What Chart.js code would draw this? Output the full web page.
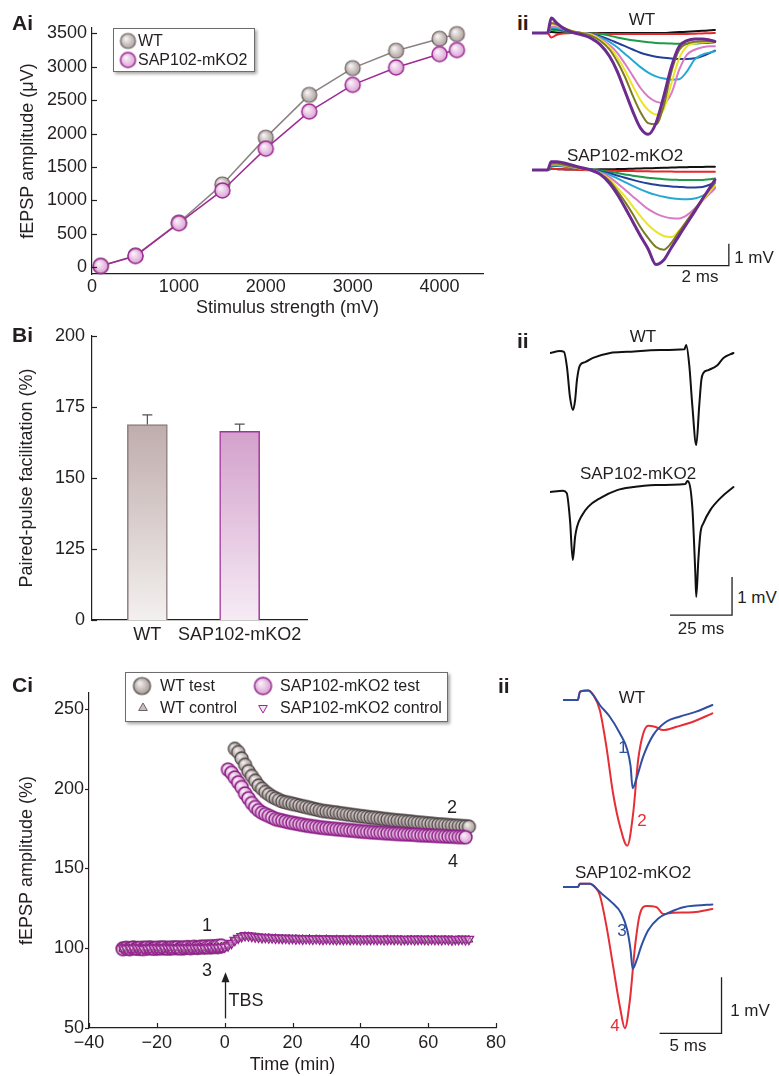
<!DOCTYPE html>
<html>
<head>
<meta charset="utf-8">
<title>SAP102-mKO2 synaptic physiology</title>
<script src="https://cdn.jsdelivr.net/npm/chart.js"></script>
<style>
  html, body { margin: 0; padding: 0; background: #fff; }
  body { width: 779px; height: 1076px; position: relative; overflow: hidden;
         font-family: 'Liberation Sans', Arial, Helvetica, sans-serif; color: #231f20; }
  canvas { position: absolute; }
  .t { position: absolute; line-height: 1; white-space: nowrap; font-size: 17px; transform: translate(-50%, -50%); }
  .panel { position: absolute; line-height: 1; font-size: 21px; font-weight: bold; }
  .legend { position: absolute; border: 1px solid #6d6d6d; background: #fff; box-shadow: 2px 2px 3px rgba(0,0,0,0.35); }
  .legend .item { position: absolute; font-size: 16px; line-height: 1; white-space: nowrap; transform: translateY(-50%); }
  .legend canvas { transform: translate(-50%, -50%); }
</style>
</head>
<body>

<canvas id="chartAi" width="500" height="320" style="left:0;top:0"></canvas>
<canvas id="chartAiiWT" width="217" height="132" style="left:532px;top:11px"></canvas>
<canvas id="chartAiiSAP" width="217" height="154" style="left:532px;top:148px"></canvas>
<canvas id="chartBi" width="500" height="328" style="left:0;top:312px"></canvas>
<canvas id="chartBiiWT" width="186" height="133" style="left:550px;top:334px"></canvas>
<canvas id="chartBiiSAP" width="186" height="152" style="left:550px;top:473px"></canvas>
<canvas id="chartCi" width="540" height="416" style="left:0;top:660px"></canvas>
<canvas id="chartCiiWT" width="161" height="190" style="left:563px;top:672px"></canvas>
<canvas id="chartCiiSAP" width="161" height="185" style="left:563px;top:859px"></canvas>

<div class="legend" id="legendAi" style="left:113px;top:28px;width:140px;height:42px"></div>
<div class="legend" id="legendCi" style="left:125px;top:672px;width:321px;height:48px"></div>

<div class="panel" style="left:12px;top:12px">Ai</div>
<div class="panel" style="left:517px;top:12px">ii</div>
<div class="panel" style="left:12px;top:324px">Bi</div>
<div class="panel" style="left:517px;top:330px">ii</div>
<div class="panel" style="left:12px;top:674px">Ci</div>
<div class="panel" style="left:498px;top:675px">ii</div>

<div class="t" style="left:642px;top:19px">WT</div>
<div class="t" style="left:625px;top:155px">SAP102-mKO2</div>
<div class="t" style="left:754px;top:257px">1 mV</div>
<div class="t" style="left:700px;top:276px">2 ms</div>

<div class="t" style="left:643px;top:336px">WT</div>
<div class="t" style="left:638px;top:473px">SAP102-mKO2</div>
<div class="t" style="left:757px;top:597px">1 mV</div>
<div class="t" style="left:701px;top:628px">25 ms</div>

<div class="t" style="left:632px;top:697px">WT</div>
<div class="t" style="left:633px;top:872px">SAP102-mKO2</div>
<div class="t" style="left:750px;top:1010px">1 mV</div>
<div class="t" style="left:688px;top:1045px">5 ms</div>
<div class="t" style="left:623px;top:747px;color:#2f4fa2">1</div>
<div class="t" style="left:642px;top:820px;color:#e62e36">2</div>
<div class="t" style="left:622px;top:930px;color:#2f4fa2">3</div>
<div class="t" style="left:615px;top:1025px;color:#e62e36">4</div>

<div class="t" style="left:207px;top:925px;font-size:18px">1</div>
<div class="t" style="left:207px;top:970px;font-size:18px">3</div>
<div class="t" style="left:452px;top:807px;font-size:18px">2</div>
<div class="t" style="left:453px;top:861px;font-size:18px">4</div>
<div class="t" style="left:246px;top:1000px;font-size:18px">TBS</div>

<script>
// --- Ai: input-output curve ---
const aStimulus = [100, 500, 1000, 1500, 2000, 2500, 3000, 3500, 4000, 4200];
const aWT = [20, 175, 670, 1240, 1940, 2580, 2980, 3240, 3420, 3490];
const aSAP = [20, 170, 660, 1150, 1775, 2330, 2730, 2990, 3190, 3250];
const aXTicks = [0, 1000, 2000, 3000, 4000];
const aYTicks = [0, 500, 1000, 1500, 2000, 2500, 3000, 3500];

// --- Aii: example fEPSPs at increasing stimulus (ms, mV) ---
const aiiTime = [0, 0.5, 0.62, 0.8, 1.0, 1.3, 1.6, 1.9, 2.2, 2.5, 2.75, 3.0, 3.25, 3.5, 3.75, 4.0, 4.25, 4.5, 4.75, 5.0, 5.25, 5.5, 5.75, 5.9];
const aiiWtTraces = [
  [0, 0, 0.05, 0.02, 0, 0, 0, 0, 0, 0, 0, 0, 0, 0, 0, 0, 0, 0.02, 0.04, 0.06, 0.08, 0.1, 0.12, 0.14],
  [0, 0, -0.2, -0.08, -0.02, 0, 0, -0.02, -0.03, -0.04, -0.05, -0.05, -0.05, -0.05, -0.05, -0.05, -0.05, -0.05, -0.04, -0.04, -0.03, -0.02, -0.01, 0],
  [0, 0, 0.15, 0.12, 0.08, 0.03, 0, -0.02, -0.05, -0.12, -0.2, -0.27, -0.33, -0.38, -0.42, -0.45, -0.47, -0.48, -0.49, -0.49, -0.48, -0.46, -0.44, -0.42],
  [0, 0, 0.2, 0.18, 0.12, 0.04, 0, -0.04, -0.15, -0.3, -0.45, -0.6, -0.75, -0.9, -1.0, -1.08, -1.13, -1.16, -1.18, -1.18, -1.15, -1.05, -0.9, -0.8],
  [0, 0, 0.25, 0.22, 0.15, 0.05, 0, -0.05, -0.2, -0.4, -0.65, -0.95, -1.25, -1.55, -1.8, -1.97, -2.07, -2.12, -2.1, -1.74, -1.2, -0.98, -0.88, -0.83],
  [0, 0, 0.3, 0.28, 0.2, 0.07, 0, -0.06, -0.25, -0.55, -0.9, -1.4, -1.95, -2.5, -2.9, -3.12, -3.18, -2.73, -1.67, -0.98, -0.76, -0.65, -0.6, -0.6],
  [0, 0, 0.4, 0.35, 0.25, 0.08, 0, -0.08, -0.3, -0.65, -1.1, -1.7, -2.4, -3.05, -3.5, -3.7, -3.48, -2.27, -1.14, -0.6, -0.47, -0.42, -0.4, -0.42],
  [0, 0, 0.45, 0.38, 0.25, 0.08, 0, -0.12, -0.35, -0.75, -1.3, -2.0, -2.85, -3.6, -4.1, -4.15, -3.3, -1.75, -0.76, -0.48, -0.4, -0.37, -0.38, -0.4],
  [0, 0, 0.68, 0.45, 0.23, 0.03, -0.08, -0.23, -0.53, -1.06, -1.74, -2.65, -3.56, -4.32, -4.6, -4.09, -2.88, -1.52, -0.6, -0.35, -0.27, -0.27, -0.33, -0.38]
];
const aiiSapTraces = [
  [0, 0, 0.05, 0.04, 0.03, 0.02, 0.02, 0.02, 0.03, 0.03, 0.04, 0.05, 0.06, 0.07, 0.08, 0.09, 0.1, 0.11, 0.12, 0.13, 0.14, 0.14, 0.15, 0.15],
  [0, 0, 0.05, 0.04, 0.03, 0.02, 0, -0.01, -0.02, -0.03, -0.04, -0.05, -0.05, -0.06, -0.06, -0.07, -0.07, -0.07, -0.08, -0.08, -0.08, -0.08, -0.08, -0.08],
  [0, 0, 0.15, 0.18, 0.16, 0.12, 0.06, 0.02, -0.03, -0.08, -0.14, -0.2, -0.26, -0.31, -0.35, -0.39, -0.42, -0.44, -0.45, -0.46, -0.46, -0.45, -0.42, -0.38],
  [0, 0, 0.2, 0.2, 0.18, 0.12, 0.06, 0.02, -0.06, -0.15, -0.25, -0.35, -0.45, -0.54, -0.61, -0.67, -0.72, -0.75, -0.77, -0.79, -0.79, -0.77, -0.66, -0.55],
  [0, 0, 0.22, 0.22, 0.18, 0.12, 0.06, 0.01, -0.1, -0.22, -0.38, -0.55, -0.72, -0.88, -1.02, -1.13, -1.22, -1.28, -1.32, -1.33, -1.3, -1.18, -0.95, -0.78],
  [0, 0, 0.25, 0.24, 0.2, 0.13, 0.06, 0, -0.12, -0.32, -0.6, -0.9, -1.2, -1.5, -1.78, -1.98, -2.12, -2.19, -2.2, -2.05, -1.75, -1.4, -1.05, -0.85],
  [0, 0, 0.3, 0.28, 0.22, 0.14, 0.06, 0, -0.15, -0.42, -0.8, -1.2, -1.65, -2.1, -2.5, -2.8, -3.0, -3.05, -2.75, -2.3, -1.85, -1.4, -0.95, -0.7],
  [0, 0, 0.3, 0.3, 0.24, 0.15, 0.06, 0, -0.18, -0.5, -0.95, -1.45, -2.0, -2.6, -3.1, -3.5, -3.62, -3.3, -2.8, -2.3, -1.8, -1.3, -0.85, -0.6],
  [0, 0, 0.38, 0.38, 0.33, 0.22, 0.1, 0, -0.2, -0.6, -1.1, -1.7, -2.35, -3.0, -3.6, -4.3, -4.09, -3.52, -2.97, -2.42, -1.88, -1.32, -0.77, -0.45]
];
const aiiBarT = [4.35, 6.35, 6.35];
const aiiBarV = [-4.35, -4.35, -3.35];

// --- Bi: paired-pulse facilitation ---
const bCategories = ['WT', 'SAP102-mKO2'];
const bMeans = [168.8, 166.4];
const bSem = [3.4, 2.6];
const bTickValues = [100, 125, 150, 175, 200];
const bTickLabels = ['0', '125', '150', '175', '200'];

// --- Bii: paired-pulse traces (ms, mV) ---
const biiWtT = [0, 4.3, 6.0, 7.3, 8.6, 9.9, 10.8, 11.6, 12.9, 15.1, 18.5, 25.9, 33.2, 47.4, 57.8, 58.6, 59.9, 61.2, 62.9, 64.2, 65.1, 65.9, 68.1, 72.0, 74.6, 78.9];
const biiWtV = [0, 0.05, 0.03, -0.37, -1.16, -1.5, -1.24, -0.71, -0.32, -0.24, -0.13, 0, 0.03, 0.08, 0.1, 0.21, -0.32, -1.37, -2.42, -1.37, -0.71, -0.53, -0.45, -0.32, -0.13, 0];
const biiSapT = [0, 5.6, 7.2, 8.6, 9.8, 10.8, 11.6, 13.8, 16.4, 21.6, 28.9, 35.8, 43.1, 58.2, 59.1, 61.2, 62.5, 62.9, 63.8, 64.7, 66.0, 69.0, 73.3, 78.9];
const biiSapV = [0, 0.03, -0.03, -0.74, -1.79, -1.18, -0.92, -0.61, -0.39, -0.16, 0.05, 0.13, 0.18, 0.21, 0.29, -0.39, -2.13, -2.76, -1.79, -1.08, -0.82, -0.47, -0.16, 0.13];
const biiBarT = [51.6, 78.3, 78.3];
const biiBarV = [-3.24, -3.24, -2.24];

// --- Ci: LTP time course ---
const ciXTicks = [-40, -20, 0, 20, 40, 60, 80];
const ciYTicks = [50, 100, 150, 200, 250];
const ciPreTime = [-30, -29, -28, -27, -26, -25, -24, -23, -22, -21, -20, -19, -18, -17, -16, -15, -14, -13, -12, -11, -10, -9, -8, -7, -6, -5, -4, -3, -2, -1];
const ciPostTime = [1, 2, 3, 4, 5, 6, 7, 8, 9, 10, 11, 12, 13, 14, 15, 16, 17, 18, 19, 20, 21, 22, 23, 24,
  25, 26, 27, 28, 29, 30, 31, 32, 33, 34, 35, 36, 37, 38, 39, 40, 41, 42, 43, 44, 45, 46, 47, 48,
  49, 50, 51, 52, 53, 54, 55, 56, 57, 58, 59, 60, 61, 62, 63, 64, 65, 66, 67, 68, 69, 70, 71, 72];
const ciWtTestPre = [99.8, 100.1, 99.6, 100.3, 100.0, 99.7, 100.2, 99.9, 100.4, 100.1, 99.8, 100.3, 100.0, 100.2, 99.9,
  100.4, 100.1, 100.3, 100.0, 100.5, 100.2, 100.6, 100.3, 100.7, 100.5, 100.9, 100.6, 101.0, 100.8, 101.2];
const ciWtTestPost = [null, null, 225, 223, 219, 215, 211, 208, 205, 202, 200, 198,
  196.5, 195, 194, 193, 192, 191.5, 191, 190.5, 190, 189.5, 189, 188.5,
  188, 187.5, 187, 186.5, 186, 185.8, 185.5, 185.2, 185, 184.6, 184.3, 184,
  183.7, 183.4, 183.1, 182.8, 182.6, 182.3, 182, 181.8, 181.6, 181.3, 181, 180.8,
  180.5, 180.3, 180.1, 179.9, 179.7, 179.5, 179.3, 179, 178.8, 178.6, 178.4, 178.2,
  178, 177.8, 177.6, 177.5, 177.3, 177.1, 177, 176.8, 176.7, 176.5, 176.4, 176.2];
const ciSapTestPre = [99.5, 100.0, 99.7, 100.2, 99.8, 100.1, 99.6, 100.3, 100.0, 99.8, 100.2, 100.1, 100.4, 99.9, 100.3,
  100.2, 100.5, 100.0, 100.4, 100.6, 100.3, 100.7, 100.5, 100.8, 101.0, 100.7, 101.2, 101.0, 101.4, 101.6];
const ciSapTestPost = [212, 210, 207, 204, 201, 197, 194, 191, 188.5, 186.5, 185, 184,
  183, 182, 181, 180.5, 180, 179.5, 179, 178.6, 178.2, 177.8, 177.4, 177,
  176.7, 176.4, 176.1, 175.8, 175.5, 175.3, 175.1, 174.9, 174.7, 174.5, 174.3, 174.1,
  173.9, 173.7, 173.5, 173.3, 173.1, 173, 172.8, 172.7, 172.5, 172.4, 172.2, 172.1,
  172, 171.8, 171.7, 171.6, 171.5, 171.4, 171.3, 171.2, 171, 170.9, 170.8, 170.7,
  170.6, 170.5, 170.4, 170.3, 170.2, 170.1, 170, 169.9, 169.8, 169.7, 169.6, null];
const ciWtCtrl = [99.6, 100.2, 99.8, 100.4, 99.9, 100.3, 99.7, 100.1, 100.4, 99.8,
  100.2, 100.0, 99.7, 100.3, 100.1, 99.9, 100.4, 100.0, 99.8, 100.2,
  100.3, 99.9, 100.1, 100.5, 100.0, 100.3, 100.6, 100.2, 100.8, 101.0,
  101.2,
  102.0, 103.8, 105.4, 106.5, 107.2, 107.6, 107.5, 107.3, 107.0, 106.8, 106.6, 106.4,
  106.5, 106.2, 106.3, 106.0, 106.1, 105.9, 106.0, 105.8, 105.9, 105.7, 105.8, 105.6,
  105.9, 105.5, 105.7, 105.6, 105.4, 105.7, 105.5, 105.3, 105.6, 105.4, 105.5, 105.2,
  105.6, 105.3, 105.4, 105.5, 105.2, 105.4, 105.6, 105.3, 105.5, 105.2, 105.4, 105.6,
  105.3, 105.2, 105.5, 105.4, 105.1, 105.3, 105.5, 105.2, 105.4, 105.3, 105.1, 105.4,
  105.2, 105.5, 105.3, 105.1, 105.4, 105.2, 105.3, 105.0, 105.4, 105.2, 105.1, 105.3];
const ciSapCtrl = [100.3, 99.7, 100.1, 99.9, 100.4, 100.0, 99.6, 100.2, 99.9, 100.3,
  100.1, 99.8, 100.2, 100.4, 99.9, 100.1, 99.7, 100.3, 100.0, 100.2,
  99.9, 100.4, 100.1, 100.3, 100.0, 100.5, 100.2, 100.6, 100.4, 100.7,
  100.9,
  101.6, 103.2, 105.0, 106.4, 107.4, 108.0, 107.8, 107.6, 107.3, 107.0, 106.8, 106.9,
  106.6, 106.7, 106.4, 106.5, 106.3, 106.4, 106.1, 106.3, 106.0, 106.2, 105.9, 106.1,
  106.0, 105.8, 106.1, 105.9, 105.7, 106.0, 105.8, 105.9, 105.6, 105.9, 105.7, 105.8,
  105.6, 105.9, 105.7, 105.5, 105.8, 105.6, 105.7, 105.9, 105.6, 105.8, 105.5, 105.7,
  105.9, 105.6, 105.8, 105.5, 105.7, 105.6, 105.8, 105.5, 105.7, 105.9, 105.6, 105.5,
  105.8, 105.6, 105.7, 105.5, 105.8, 105.6, 105.4, 105.7, 105.6, 105.8, 105.5, 105.7];
const tbsTime = 0;
const tbsArrowFrom = 56;
const tbsArrowTo = 85;

// --- Cii: traces before (1, 3) and after (2, 4) TBS (ms, mV) ---
const ciiWtT1 = [0, 1.2, 1.37, 2.03, 2.44, 2.97, 3.78, 4.6, 5.19, 5.46, 5.62, 5.94, 6.48, 7.28, 8.33, 9.4, 10.75, 12.06];
const ciiWtV1 = [0, 0, 0.15, 0.17, 0.09, -0.09, -0.3, -0.6, -0.89, -1.19, -1.58, -1.4, -1.01, -0.63, -0.39, -0.3, -0.21, -0.09];
const ciiWtT2 = [0, 1.2, 1.37, 2.03, 2.44, 2.97, 3.5, 4.04, 4.6, 5.19, 5.67, 6.07, 6.48, 6.88, 7.42, 8.09, 9.17, 10.5, 12.06];
const ciiWtV2 = [0, 0, 0.15, 0.17, 0.09, -0.18, -0.83, -1.67, -2.26, -2.61, -2.02, -1.07, -0.6, -0.46, -0.48, -0.54, -0.48, -0.39, -0.24];
const ciiSapT3 = [0, 1.2, 1.37, 2.18, 2.58, 2.98, 3.92, 4.73, 5.19, 5.46, 5.62, 5.94, 6.34, 6.88, 7.69, 8.63, 9.71, 10.78, 12.06];
const ciiSapV3 = [0, 0, 0.06, 0.06, 0, -0.09, -0.27, -0.48, -0.77, -1.13, -1.46, -1.31, -1.04, -0.77, -0.56, -0.45, -0.36, -0.33, -0.31];
const ciiSapT4 = [0, 1.2, 1.37, 2.18, 2.58, 2.98, 3.52, 4.06, 4.6, 5.0, 5.4, 5.81, 6.21, 6.75, 7.56, 8.09, 8.9, 10.5, 12.06];
const ciiSapV4 = [0, 0, 0.06, 0.06, 0, -0.15, -0.71, -1.43, -2.14, -2.52, -2.02, -1.07, -0.48, -0.34, -0.36, -0.48, -0.46, -0.45, -0.39];
const ciiBarT = [7.8, 12.8, 12.8];
const ciiBarV = [-2.61, -2.61, -1.61];

// warna
const INK = '#231f20';
const FONT = "'Liberation Sans', Arial, Helvetica, sans-serif";
const aiiColors = ['#111111', '#e5282e', '#1f9a48', '#22409a', '#25a9d3', '#d87bc7', '#ece42a', '#7d7a24', '#6c2b8e'];
const bFillTop = ['#bfadac', '#d3a1cc'];
const bFillBottom = ['#f3f0ef', '#f6ebf5'];
const bBorder = ['#8c7c7e', '#a3359a'];
const BLUE = '#2f4fa2';
const RED = '#e62e36';

function pts(t, v) {
    return t.map(function(x, i) { return { x: x, y: v[i] }; });
}

function ball(r, light, dark, edge, lw) {
    const size = Math.ceil(2 * r + lw + 2);
    const c = document.createElement('canvas');
    c.width = size;
    c.height = size;
    const g = c.getContext('2d');
    const m = size / 2;
    const grad = g.createRadialGradient(m - r * 0.3, m - r * 0.35, r * 0.1, m, m, r);
    grad.addColorStop(0, light);
    grad.addColorStop(1, dark);
    g.beginPath();
    g.arc(m, m, r, 0, Math.PI * 2);
    g.fillStyle = grad;
    g.fill();
    g.lineWidth = lw;
    g.strokeStyle = edge;
    g.stroke();
    return c;
}

function triangleIcon(r, down, fill, edge) {
    const size = Math.ceil(2 * r + 4);
    const c = document.createElement('canvas');
    c.width = size;
    c.height = size;
    const g = c.getContext('2d');
    const m = size / 2;
    let a = down ? Math.PI : 0;
    g.beginPath();
    for (let k = 0; k < 3; k++) {
        const px = m + Math.sin(a) * r, py = m - Math.cos(a) * r;
        if (k === 0) g.moveTo(px, py); else g.lineTo(px, py);
        a += Math.PI * 2 / 3;
    }
    g.closePath();
    g.fillStyle = fill;
    g.fill();
    g.lineWidth = 1;
    g.strokeStyle = edge;
    g.stroke();
    return c;
}

// tick kecil pada sumbu (ke dalam / ke luar)
const tickMarks = {
    id: 'tickMarks',
    afterDraw(chart, args, opts) {
        const ctx = chart.ctx;
        const area = chart.chartArea;
        ctx.save();
        ctx.strokeStyle = INK;
        ctx.lineWidth = 1.2;
        ['x', 'y'].forEach(function(id) {
            const o = opts[id];
            const scale = chart.scales[id];
            if (!o || !scale) return;
            scale.ticks.forEach(function(t) {
                const p = Math.round(scale.getPixelForValue(t.value)) + 0.5;
                ctx.beginPath();
                if (id === 'x') {
                    ctx.moveTo(p, area.bottom);
                    ctx.lineTo(p, area.bottom + o.len * o.dir);
                } else {
                    ctx.moveTo(area.left, p);
                    ctx.lineTo(area.left + o.len * o.dir, p);
                }
                ctx.stroke();
            });
        });
        ctx.restore();
    }
};

const errorBars = {
    id: 'errorBars',
    afterDatasetsDraw(chart) {
        const ctx = chart.ctx;
        const ys = chart.scales.y;
        ctx.save();
        ctx.strokeStyle = '#55504f';
        ctx.lineWidth = 1.2;
        chart.getDatasetMeta(0).data.forEach(function(bar, i) {
            const top = ys.getPixelForValue(bMeans[i]);
            const end = ys.getPixelForValue(bMeans[i] + bSem[i]);
            ctx.beginPath();
            ctx.moveTo(bar.x, top);
            ctx.lineTo(bar.x, end);
            ctx.moveTo(bar.x - 5, end);
            ctx.lineTo(bar.x + 5, end);
            ctx.stroke();
        });
        ctx.restore();
    }
};

const tbsArrow = {
    id: 'tbsArrow',
    afterDraw(chart) {
        const ctx = chart.ctx;
        const x = Math.round(chart.scales.x.getPixelForValue(tbsTime)) + 0.5;
        const y0 = chart.scales.y.getPixelForValue(tbsArrowFrom);
        const y1 = chart.scales.y.getPixelForValue(tbsArrowTo);
        ctx.save();
        ctx.strokeStyle = INK;
        ctx.fillStyle = INK;
        ctx.lineWidth = 1.3;
        ctx.beginPath();
        ctx.moveTo(x, y0);
        ctx.lineTo(x, y1 + 6);
        ctx.stroke();
        ctx.beginPath();
        ctx.moveTo(x, y1);
        ctx.lineTo(x - 4, y1 + 10);
        ctx.lineTo(x + 4, y1 + 10);
        ctx.closePath();
        ctx.fill();
        ctx.restore();
    }
};

function fixedTicks(list) {
    return function(scale) {
        scale.ticks = list.map(function(v) { return { value: v }; });
    };
}

function trace(t, v, color, width) {
    return { data: pts(t, v), borderColor: color, borderWidth: width, fill: false, clip: false, pointRadius: 0 };
}

function scaleBar(t, v) {
    return { data: pts(t, v), borderColor: INK, borderWidth: 1.3, cubicInterpolationMode: 'default', tension: 0,
             borderCapStyle: 'butt', borderJoinStyle: 'miter', fill: false, clip: false, pointRadius: 0 };
}

function traceChart(id, xRange, yRange, datasets) {
    return new Chart(document.getElementById(id), {
        type: 'line',
        data: { datasets: datasets },
        options: {
            responsive: false, animation: false, events: [],
            layout: { padding: 0 },
            elements: { point: { radius: 0 }, line: { cubicInterpolationMode: 'monotone', borderJoinStyle: 'round', borderCapStyle: 'round' } },
            plugins: { legend: { display: false }, tooltip: { enabled: false } },
            scales: {
                x: { type: 'linear', display: false, min: xRange[0], max: xRange[1] },
                y: { type: 'linear', display: false, min: yRange[0], max: yRange[1] }
            }
        }
    });
}

function addLegend(box, items) {
    items.forEach(function(it) {
        it.icon.style.left = it.x + 'px';
        it.icon.style.top = it.y + 'px';
        box.appendChild(it.icon);
        const label = document.createElement('div');
        label.className = 'item';
        label.textContent = it.label;
        label.style.left = it.tx + 'px';
        label.style.top = it.y + 'px';
        box.appendChild(label);
    });
}

document.addEventListener('DOMContentLoaded', function() {
    Chart.defaults.font.family = FONT;
    Chart.defaults.color = INK;
    const axisFont = { family: FONT, size: 18 };
    const axisBorder = { display: true, color: INK, width: 1.2 };
    const noGrid = { display: false, drawTicks: false };

    // --- Ai ---
    const wtBall = ball(7.5, '#f6f3f2', '#ada19f', '#6b6060', 1.2);
    const sapBall = ball(7.5, '#fcf0fb', '#d9a3d2', '#9d2b93', 1.5);
    const chartAi = new Chart(document.getElementById('chartAi'), {
        type: 'line',
        data: {
            datasets: [
                { label: 'WT', data: pts(aStimulus, aWT), borderColor: '#8b8282', borderWidth: 1.5, tension: 0,
                  pointStyle: wtBall, pointRadius: 7, order: 2, clip: false },
                { label: 'SAP102-mKO2', data: pts(aStimulus, aSAP), borderColor: '#9d2b93', borderWidth: 1.5, tension: 0,
                  pointStyle: sapBall, pointRadius: 7, order: 1, clip: false }
            ]
        },
        options: {
            responsive: false, animation: false, events: [],
            layout: { padding: { left: 0, top: 28, right: 17, bottom: 0 } },
            plugins: { legend: { display: false }, tooltip: { enabled: false }, tickMarks: { y: { len: 5, dir: 1 } } },
            scales: {
                x: {
                    type: 'linear', min: 0, max: 4500,
                    afterFit: function(s) { s.height = 46; },
                    afterBuildTicks: fixedTicks(aXTicks),
                    ticks: { font: axisFont, padding: 2, maxRotation: 0, autoSkip: false, callback: function(v) { return String(v); } },
                    grid: noGrid, border: axisBorder,
                    title: { display: true, text: 'Stimulus strength (mV)', font: axisFont, padding: { top: 0, bottom: 1 } }
                },
                y: {
                    type: 'linear', min: -100, max: 3580,
                    afterFit: function(s) { s.width = 92; },
                    afterBuildTicks: fixedTicks(aYTicks),
                    ticks: { font: axisFont, padding: 5, autoSkip: false, callback: function(v) { return String(v); } },
                    grid: noGrid, border: axisBorder,
                    title: { display: true, text: 'fEPSP amplitude (\u03bcV)', font: axisFont, padding: { top: 17, bottom: 0 } }
                }
            }
        },
        plugins: [tickMarks]
    });
    addLegend(document.getElementById('legendAi'), [
        { icon: ball(7.5, '#f6f3f2', '#ada19f', '#6b6060', 1.2), x: 14, y: 12, tx: 24, label: chartAi.data.datasets[0].label },
        { icon: ball(7.5, '#fcf0fb', '#d9a3d2', '#9d2b93', 1.5), x: 14, y: 31, tx: 24, label: chartAi.data.datasets[1].label }
    ]);

    // --- Aii ---
    traceChart('chartAiiWT', [0, 7], [-5, 1], aiiWtTraces.map(function(v, i) {
        return trace(aiiTime, v, aiiColors[i], i === 8 ? 3 : 2);
    }).reverse());
    traceChart('chartAiiSAP', [0, 7], [-6, 1], [scaleBar(aiiBarT, aiiBarV)].concat(aiiSapTraces.map(function(v, i) {
        return trace(aiiTime, v, aiiColors[i], i === 8 ? 3 : 2);
    }).reverse()));

    // --- Bi ---
    new Chart(document.getElementById('chartBi'), {
        type: 'bar',
        data: {
            datasets: [{
                data: pts([0, 1], bMeans),
                backgroundColor: function(c) {
                    const chart = c.chart;
                    const area = chart.chartArea;
                    if (!area) return bFillTop[c.dataIndex];
                    const top = chart.scales.y.getPixelForValue(bMeans[c.dataIndex]);
                    const g = chart.ctx.createLinearGradient(0, top, 0, area.bottom);
                    g.addColorStop(0, bFillTop[c.dataIndex]);
                    g.addColorStop(1, bFillBottom[c.dataIndex]);
                    return g;
                },
                borderColor: bBorder,
                borderWidth: 1.5,
                borderSkipped: 'start',
                barThickness: 40
            }]
        },
        options: {
            responsive: false, animation: false, events: [],
            layout: { padding: { left: 0, top: 24, right: 193, bottom: 0 } },
            plugins: { legend: { display: false }, tooltip: { enabled: false }, tickMarks: { y: { len: 5, dir: 1 } } },
            scales: {
                x: {
                    type: 'linear', min: -0.6, max: 1.73, offset: false,
                    afterFit: function(s) { s.height = 20; },
                    afterBuildTicks: fixedTicks([0, 1]),
                    ticks: { font: axisFont, padding: 4, maxRotation: 0, autoSkip: false, callback: function(v, i) { return bCategories[i]; } },
                    grid: noGrid, border: axisBorder
                },
                y: {
                    type: 'linear', min: 100, max: 200,
                    afterFit: function(s) { s.width = 92; },
                    afterBuildTicks: fixedTicks(bTickValues),
                    ticks: { font: axisFont, padding: 7, autoSkip: false, callback: function(v, i) { return bTickLabels[i]; } },
                    grid: noGrid, border: axisBorder,
                    title: { display: true, text: 'Paired-pulse facilitation (%)', font: axisFont, padding: { top: 16, bottom: 0 } }
                }
            }
        },
        plugins: [tickMarks, errorBars]
    });

    // --- Bii ---
    traceChart('chartBiiWT', [0, 80], [-3, 0.5], [trace(biiWtT, biiWtV, '#111111', 2)]);
    traceChart('chartBiiSAP', [0, 80], [-3.5, 0.5], [trace(biiSapT, biiSapV, '#111111', 2), scaleBar(biiBarT, biiBarV)]);

    // --- Ci ---
    const ciTestTime = ciPreTime.concat(ciPostTime);
    const ciCtrlTime = ciPreTime.concat([0], ciPostTime);
    const wtTestBall = ball(6.5, '#f2eeed', '#a59896', '#4e4646', 1.3);
    const sapTestBall = ball(6.5, '#fbeefa', '#d69fcf', '#8e1f88', 1.5);
    const chartCi = new Chart(document.getElementById('chartCi'), {
        type: 'scatter',
        data: {
            datasets: [
                { label: 'WT test', data: pts(ciTestTime, ciWtTestPre.concat(ciWtTestPost)), pointStyle: wtTestBall, pointRadius: 6, order: 4, clip: false },
                { label: 'SAP102-mKO2 test', data: pts(ciTestTime, ciSapTestPre.concat(ciSapTestPost)), pointStyle: sapTestBall, pointRadius: 6, order: 3, clip: false },
                { label: 'WT control', data: pts(ciCtrlTime, ciWtCtrl), pointStyle: 'triangle', pointRadius: 4.5,
                  backgroundColor: '#d6cece', borderColor: '#3a3434', borderWidth: 1, order: 2, clip: false },
                { label: 'SAP102-mKO2 control', data: pts(ciCtrlTime, ciSapCtrl), pointStyle: 'triangle', rotation: 180, pointRadius: 5.5,
                  backgroundColor: 'rgba(239, 205, 235, 0.35)', borderColor: '#9a2494', borderWidth: 1.3, order: 1, clip: false }
            ]
        },
        options: {
            responsive: false, animation: false, events: [],
            layout: { padding: { left: 0, top: 33, right: 44, bottom: 0 } },
            plugins: { legend: { display: false }, tooltip: { enabled: false }, tickMarks: { x: { len: 5, dir: -1 }, y: { len: 4, dir: -1 } } },
            scales: {
                x: {
                    type: 'linear', min: -40, max: 80,
                    afterFit: function(s) { s.height = 48; },
                    afterBuildTicks: fixedTicks(ciXTicks),
                    ticks: { font: axisFont, padding: 4, maxRotation: 0, autoSkip: false,
                             callback: function(v) { return v < 0 ? '\u2212' + Math.abs(v) : String(v); } },
                    grid: noGrid, border: axisBorder,
                    title: { display: true, text: 'Time (min)', font: axisFont, padding: { top: 0, bottom: 0 } }
                },
                y: {
                    type: 'linear', min: 50, max: 260,
                    afterFit: function(s) { s.width = 89; },
                    afterBuildTicks: fixedTicks(ciYTicks),
                    ticks: { font: axisFont, padding: 5, autoSkip: false, callback: function(v) { return String(v); } },
                    grid: noGrid, border: axisBorder,
                    title: { display: true, text: 'fEPSP amplitude (%)', font: axisFont, padding: { top: 16, bottom: 0 } }
                }
            }
        },
        plugins: [tickMarks, tbsArrow]
    });
    const ciSets = chartCi.data.datasets;
    addLegend(document.getElementById('legendCi'), [
        { icon: ball(8.5, '#f2eeed', '#a59896', '#4e4646', 1.2), x: 16, y: 13, tx: 34, label: ciSets[0].label },
        { icon: ball(8.5, '#fbeefa', '#d69fcf', '#8e1f88', 1.4), x: 137, y: 13, tx: 154, label: ciSets[1].label },
        { icon: triangleIcon(5, false, '#c9bfbf', '#6b6262'), x: 17, y: 35, tx: 34, label: ciSets[2].label },
        { icon: triangleIcon(5, true, '#f6e6f4', '#a1279a'), x: 137, y: 35, tx: 154, label: ciSets[3].label }
    ]);

    // --- Cii ---
    traceChart('chartCiiWT', [0, 13], [-2.9, 0.5], [trace(ciiWtT1, ciiWtV1, BLUE, 2), trace(ciiWtT2, ciiWtV2, RED, 2)]);
    traceChart('chartCiiSAP', [0, 13], [-2.8, 0.5], [trace(ciiSapT3, ciiSapV3, BLUE, 2), trace(ciiSapT4, ciiSapV4, RED, 2), scaleBar(ciiBarT, ciiBarV)]);
});
</script>
</body>
</html>
